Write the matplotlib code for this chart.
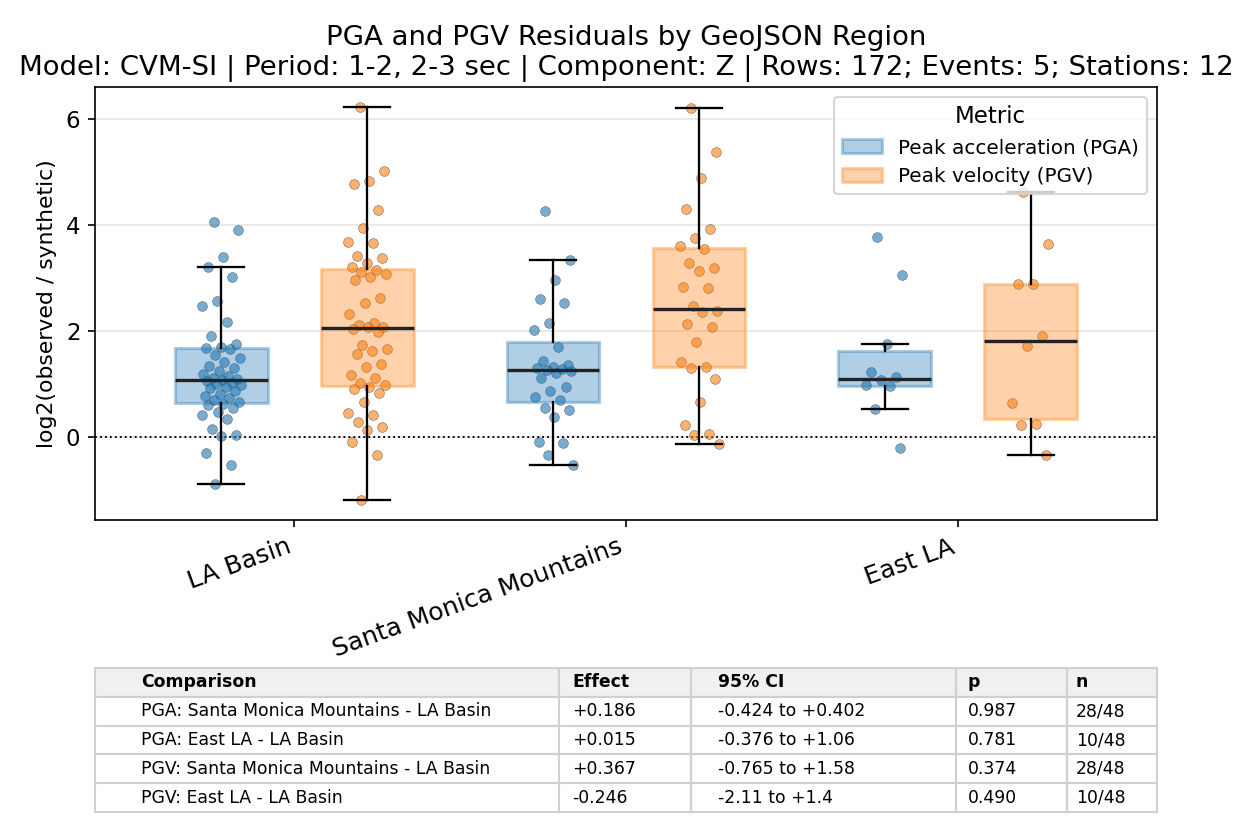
import numpy as np
import matplotlib
matplotlib.use('Agg')
import matplotlib.pyplot as plt
from matplotlib.patches import Patch
from matplotlib.ticker import MultipleLocator

regions = ['LA Basin', 'Santa Monica Mountains', 'East LA']
metrics = ['PGA', 'PGV']
metric_labels = ['Peak acceleration (PGA)', 'Peak velocity (PGV)']

# log2(observed / synthetic) per station-event row, read off the strip points
pga_la_basin = [4.05, 3.90, 3.40, 3.20, 3.02, 2.57, 2.47, 2.17, 1.90, 1.75, 1.70, 1.69,
                1.67, 1.55, 1.50, 1.42, 1.35, 1.30, 1.25, 1.20, 1.16, 1.12, 1.10, 1.08,
                1.06, 1.02, 1.00, 0.98, 0.95, 0.92, 0.88, 0.82, 0.78, 0.74, 0.70, 0.66,
                0.62, 0.60, 0.55, 0.48, 0.42, 0.35, 0.15, 0.05, 0.02, -0.30, -0.53, -0.88]
pgv_la_basin = [6.23, 5.02, 4.83, 4.77, 4.28, 3.95, 3.68, 3.67, 3.42, 3.38, 3.28, 3.20,
                3.15, 3.12, 3.08, 3.02, 2.96, 2.62, 2.53, 2.32, 2.15, 2.12, 2.08, 2.07,
                2.04, 1.98, 1.74, 1.66, 1.62, 1.56, 1.38, 1.32, 1.18, 1.12, 1.02, 0.98,
                0.95, 0.90, 0.83, 0.66, 0.45, 0.42, 0.28, 0.19, 0.13, -0.09, -0.34, -1.19]
pga_smm = [4.26, 3.34, 2.96, 2.60, 2.53, 2.15, 2.02, 1.71, 1.43, 1.36, 1.33, 1.31, 1.29, 1.27,
           1.25, 1.22, 1.11, 0.94, 0.88, 0.75, 0.70, 0.55, 0.51, 0.38, -0.09, -0.11, -0.34, -0.53]
pgv_smm = [6.21, 5.38, 4.89, 4.30, 3.92, 3.75, 3.60, 3.55, 3.28, 3.19, 3.13, 2.83, 2.81, 2.47,
           2.38, 2.36, 2.13, 2.08, 1.79, 1.41, 1.32, 1.30, 1.09, 0.66, 0.23, 0.07, 0.04, -0.13]
pga_east_la = [3.77, 3.06, 1.75, 1.23, 1.13, 1.08, 0.98, 0.96, 0.53, -0.21]
pgv_east_la = [4.62, 3.64, 2.89, 2.89, 1.91, 1.72, 0.64, 0.25, 0.23, -0.34]

table_cols = ['Comparison', 'Effect', '95% CI', 'p', 'n']
comparisons = ['PGA: Santa Monica Mountains - LA Basin', 'PGA: East LA - LA Basin',
               'PGV: Santa Monica Mountains - LA Basin', 'PGV: East LA - LA Basin']
effects = ['+0.186', '+0.015', '+0.367', '-0.246']
cis = ['-0.424 to +0.402', '-0.376 to +1.06', '-0.765 to +1.58', '-2.11 to +1.4']
pvals = ['0.987', '0.781', '0.374', '0.490']
ns = ['28/48', '10/48', '28/48', '10/48']

data = {'PGA': [pga_la_basin, pga_smm, pga_east_la],
        'PGV': [pgv_la_basin, pgv_smm, pgv_east_la]}
colors = {'PGA': '#1f77b4', 'PGV': '#ff7f0e'}
offsets = {'PGA': -0.22, 'PGV': 0.22}

fig = plt.figure(figsize=(1250 / 150, 829 / 150), dpi=150)
ax = fig.add_axes([0.076, 0.3727, 0.8496, 0.5223])

for m in metrics:
    pos = [i + offsets[m] for i in range(len(regions))]
    # deterministic spread for the strip points (golden-ratio sequence)
    for p, vals in zip(pos, data[m]):
        k = np.arange(len(vals))
        jit = ((k * 0.6180339887 + 0.31) % 1.0 - 0.5) * 0.12
        ax.scatter(p + jit, vals, s=22, color=colors[m], alpha=0.6,
                   edgecolor='#333333', linewidth=0.3, zorder=2)
    ax.boxplot(data[m], positions=pos, widths=0.28, patch_artist=True,
               showfliers=False, manage_ticks=False, zorder=3,
               boxprops=dict(facecolor=colors[m], edgecolor=colors[m], alpha=0.35, linewidth=1.5),
               medianprops=dict(color='#222222', linewidth=1.6),
               whiskerprops=dict(color='black', linewidth=1.1),
               capprops=dict(color='black', linewidth=1.1))

ax.axhline(0, color='black', linestyle=':', linewidth=0.9, zorder=1)
ax.yaxis.grid(True, color='#e6e6e6', linewidth=0.8, zorder=0)
ax.set_axisbelow(True)
ax.set_xlim(-0.6, 2.6)
ax.yaxis.set_major_locator(MultipleLocator(2))
ax.tick_params(axis='y', labelsize=11)
ax.set_xticks(range(len(regions)))
ax.set_xticklabels(regions, rotation=20, ha='right', fontsize=12)
ax.set_ylabel('log2(observed / synthetic)', fontsize=10.5)
ax.set_title('PGA and PGV Residuals by GeoJSON Region\n'
             'Model: CVM-SI | Period: 1-2, 2-3 sec | Component: Z | Rows: 172; Events: 5; Stations: 12',
             fontsize=13.2)

handles = [Patch(facecolor=colors[m], edgecolor=colors[m], alpha=0.35, linewidth=1.5) for m in metrics]
ax.legend(handles, metric_labels, title='Metric', loc='upper right', fontsize=9.6, title_fontsize=11)

tax = fig.add_axes([0.076, 0.0205, 0.8496, 0.1737])
tax.axis('off')
rows = [list(r) for r in zip(comparisons, effects, cis, pvals, ns)]
tbl = tax.table(cellText=rows, colLabels=table_cols, cellLoc='left', colLoc='left',
                colWidths=[0.437, 0.125, 0.25, 0.104, 0.085], bbox=[0, 0, 1, 1])
tbl.auto_set_font_size(False)
tbl.set_fontsize(8.3)
for (r, c), cell in tbl.get_celld().items():
    cell.set_edgecolor('#d0d0d0')
    if r == 0:
        cell.set_facecolor('#f0f0f0')
        cell.set_text_props(fontweight='bold')

fig.savefig('out.png', dpi=150)
